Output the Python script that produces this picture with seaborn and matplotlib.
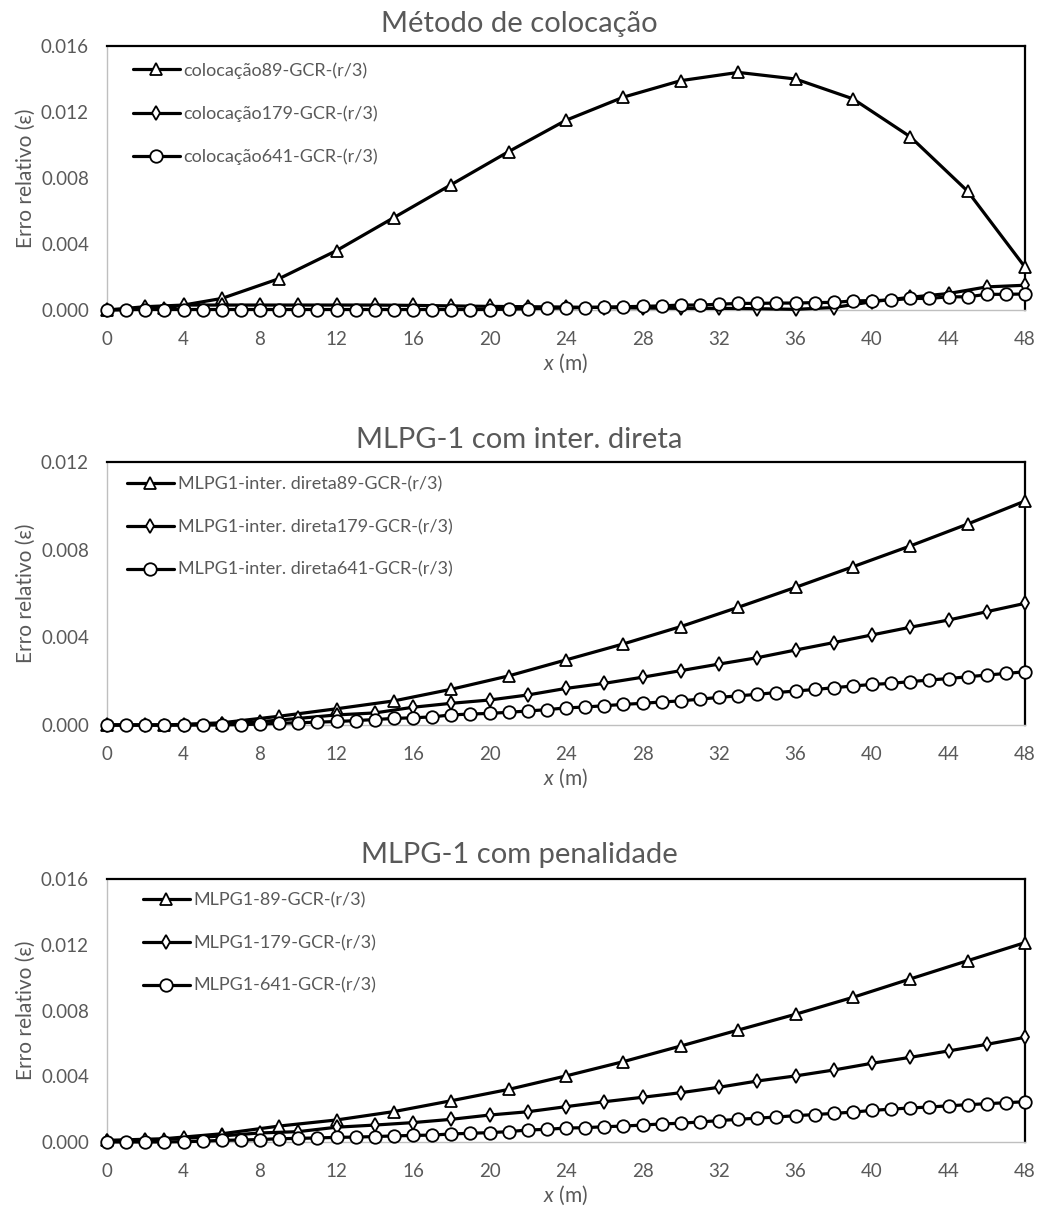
import matplotlib
matplotlib.use("Agg")
import matplotlib.pyplot as plt
import seaborn as sns
import pandas as pd

# ---------------- data ----------------
x89 = [0, 3, 6, 9, 12, 15, 18, 21, 24, 27, 30, 33, 36, 39, 42, 45, 48]
x179 = [0, 2, 4, 6, 8, 10, 12, 14, 16, 18, 20, 22, 24, 26, 28, 30, 32, 34, 36, 38, 40, 42, 44, 46, 48]
x641 = [0, 1, 2, 3, 4, 5, 6, 7, 8, 9, 10, 11, 12, 13, 14, 15, 16, 17, 18, 19, 20, 21, 22, 23, 24,
        25, 26, 27, 28, 29, 30, 31, 32, 33, 34, 35, 36, 37, 38, 39, 40, 41, 42, 43, 44, 45, 46, 47, 48]

# Panel 1: Método de colocação
col_89 = [0.0, 0.0001, 0.0007, 0.0019, 0.0036, 0.0056, 0.0076, 0.0096, 0.0115, 0.0129, 0.0139,
          0.0144, 0.0140, 0.0128, 0.0105, 0.0072, 0.0026]
col_179 = [0.0, 0.0002, 0.0003, 0.0003, 0.0003, 0.0003, 0.0003, 0.0003, 0.00028, 0.00025, 0.00022,
           0.0002, 0.00018, 0.00015, 0.00012, 0.0001, 0.0001, 0.00008, 0.00004, 0.00015, 0.0005,
           0.00077, 0.001, 0.0014, 0.0015]
col_641 = [0.0, 0.00002, 0.00003, 0.00003, 0.00003, 0.00003, 0.00003, 0.00003, 0.00003, 0.00003,
           0.00003, 0.00003, 0.00003, 0.00003, 0.00003, 0.00003, 0.00003, 0.00003, 0.00003, 0.00003,
           0.00003, 0.00005, 0.00008, 0.0001, 0.00012, 0.00015, 0.00018, 0.0002, 0.00022, 0.00025,
           0.0003, 0.0003, 0.00035, 0.0004, 0.0004, 0.00042, 0.00042, 0.00045, 0.00046, 0.00055,
           0.00057, 0.0006, 0.0007, 0.0007, 0.0008, 0.0008, 0.00095, 0.00095, 0.00097]

# Panel 2: MLPG-1 com inter. direta
dir_89 = [0.0, 0.0, 0.0001, 0.0004, 0.00074, 0.0011, 0.00163, 0.00224, 0.00297, 0.0037, 0.00449,
          0.00537, 0.00628, 0.00722, 0.00817, 0.00917, 0.01022]
dir_179 = [0.0, 0.0, 0.0, 0.00005, 0.00015, 0.0003, 0.00046, 0.00055, 0.00081, 0.00099, 0.00114,
           0.00137, 0.00167, 0.0019, 0.00218, 0.00248, 0.00278, 0.00307, 0.00342, 0.00376, 0.00411,
           0.00446, 0.00479, 0.00517, 0.00555]
dir_641 = [0.0, 0.0, 0.0, 0.0, 0.0, 0.0, 0.0, 0.00002, 0.00004, 0.00008, 0.0001, 0.00013, 0.00016,
           0.0002, 0.00025, 0.0003, 0.00033, 0.00037, 0.00046, 0.0005, 0.00053, 0.00058, 0.00064,
           0.0007, 0.00078, 0.00082, 0.00088, 0.00094, 0.00099, 0.00105, 0.0011, 0.00118, 0.00126,
           0.00133, 0.0014, 0.00148, 0.00155, 0.00162, 0.0017, 0.00178, 0.00185, 0.0019, 0.00198,
           0.00205, 0.00212, 0.0022, 0.00228, 0.00235, 0.00243]

# Panel 3: MLPG-1 com penalidade
pen_89 = [0.0001, 0.0002, 0.0005, 0.00097, 0.00134, 0.00185, 0.00251, 0.0032, 0.00402, 0.00489,
          0.00584, 0.00681, 0.00777, 0.0088, 0.00992, 0.01103, 0.01213]
pen_179 = [0.00008, 0.0001, 0.00022, 0.00037, 0.00055, 0.00063, 0.0009, 0.00103, 0.00118, 0.00138,
           0.00164, 0.00184, 0.00215, 0.00245, 0.00272, 0.003, 0.00333, 0.00371, 0.00402, 0.00438,
           0.00479, 0.00515, 0.00554, 0.00594, 0.00637]
pen_641 = [0.0, 0.0, 0.0, 0.0, 0.00002, 0.00005, 0.0001, 0.00012, 0.00015, 0.0002, 0.00022, 0.00025,
           0.00028, 0.0003, 0.00033, 0.00037, 0.0004, 0.00042, 0.00049, 0.00053, 0.00057, 0.00063,
           0.00073, 0.00077, 0.00085, 0.00087, 0.00093, 0.00097, 0.00103, 0.0011, 0.00114, 0.00122,
           0.0013, 0.00138, 0.00145, 0.00152, 0.0016, 0.00167, 0.00174, 0.00182, 0.00192, 0.002,
           0.00207, 0.00213, 0.0022, 0.00227, 0.00233, 0.00239, 0.00245]

titles = ["Método de colocação", "MLPG-1 com inter. direta", "MLPG-1 com penalidade"]
labels = [
    ["colocação89-GCR-(r/3)", "colocação179-GCR-(r/3)", "colocação641-GCR-(r/3)"],
    ["MLPG1-inter. direta89-GCR-(r/3)", "MLPG1-inter. direta179-GCR-(r/3)", "MLPG1-inter. direta641-GCR-(r/3)"],
    ["MLPG1-89-GCR-(r/3)", "MLPG1-179-GCR-(r/3)", "MLPG1-641-GCR-(r/3)"],
]
panel_data = [(col_89, col_179, col_641), (dir_89, dir_179, dir_641), (pen_89, pen_179, pen_641)]
ymax = [0.016, 0.012, 0.016]
xticks = [0, 4, 8, 12, 16, 20, 24, 28, 32, 36, 40, 44, 48]

# ---------------- style ----------------
sns.set_theme(style="white")
plt.rcParams['font.family'] = ['Lato', 'DejaVu Sans']
plt.rcParams['mathtext.fontset'] = 'custom'
plt.rcParams['mathtext.it'] = 'Lato:italic'
plt.rcParams['mathtext.rm'] = 'Lato'
GRAY = '#595959'

W, H = 1039, 1207
fig = plt.figure(figsize=(W / 100, H / 100), dpi=100)

# axes boxes in pixels: (left, top, right, bottom)
boxes = [(107, 46, 1025, 310), (107, 462, 1025, 725), (107, 879, 1025, 1142)]
title_base = [32, 448, 863]
leg_x = [133, 127, 143]
leg_top = [16, 14, 13]

markers = [dict(marker='^', markersize=9), dict(marker='d', markersize=7.5), dict(marker='o', markersize=9)]
xs = [x89, x179, x641]

for i in range(3):
    l, t, r, b = boxes[i]
    ax = fig.add_axes([l / W, 1 - b / H, (r - l) / W, (b - t) / H])
    for j in range(3):
        df = pd.DataFrame({'x': xs[j], 'y': panel_data[i][j]})
        sns.lineplot(data=df, x='x', y='y', ax=ax, color='black', linewidth=2.3,
                     markerfacecolor='white', markeredgecolor='black', markeredgewidth=1.3,
                     label=labels[i][j], clip_on=False, zorder=3 + j, **markers[j])
    ax.set_xlim(0, 48)
    ax.set_ylim(0, ymax[i])
    ax.set_xticks(xticks)
    yt = [k * 0.004 for k in range(int(round(ymax[i] / 0.004)) + 1)]
    ax.set_yticks(yt)
    ax.set_yticklabels([f"{v:.3f}" for v in yt])
    ax.tick_params(axis='both', length=0, labelsize=13.5, labelcolor=GRAY)
    ax.tick_params(axis='y', pad=13)
    ax.tick_params(axis='x', pad=15)
    for s in ['top', 'right']:
        ax.spines[s].set_color('black')
        ax.spines[s].set_linewidth(1.6)
    for s in ['left', 'bottom']:
        ax.spines[s].set_color('#bfbfbf')
        ax.spines[s].set_linewidth(1.0)
    ax.set_ylabel("Erro relativo (ε)", fontsize=15, color=GRAY)
    ax.yaxis.set_label_coords(-0.077, 0.5)
    ax.set_xlabel("$x$ (m)", fontsize=15, color=GRAY)
    ax.xaxis.set_label_coords(0.5, -(352 - 310) / 264)
    leg = ax.legend(loc='upper left', bbox_to_anchor=((leg_x[i] - l) / (r - l), 1 - leg_top[i] / (b - t)),
                    frameon=False, fontsize=13, handlelength=2.6, handletextpad=0.2,
                    labelspacing=1.48, borderpad=0, borderaxespad=0)
    for txt in leg.get_texts():
        txt.set_color(GRAY)
    fig.text(0.5, 1 - title_base[i] / H, titles[i], ha='center', va='baseline',
             fontsize=21, color=GRAY)

fig.savefig("out.png", dpi=100, facecolor='white')
